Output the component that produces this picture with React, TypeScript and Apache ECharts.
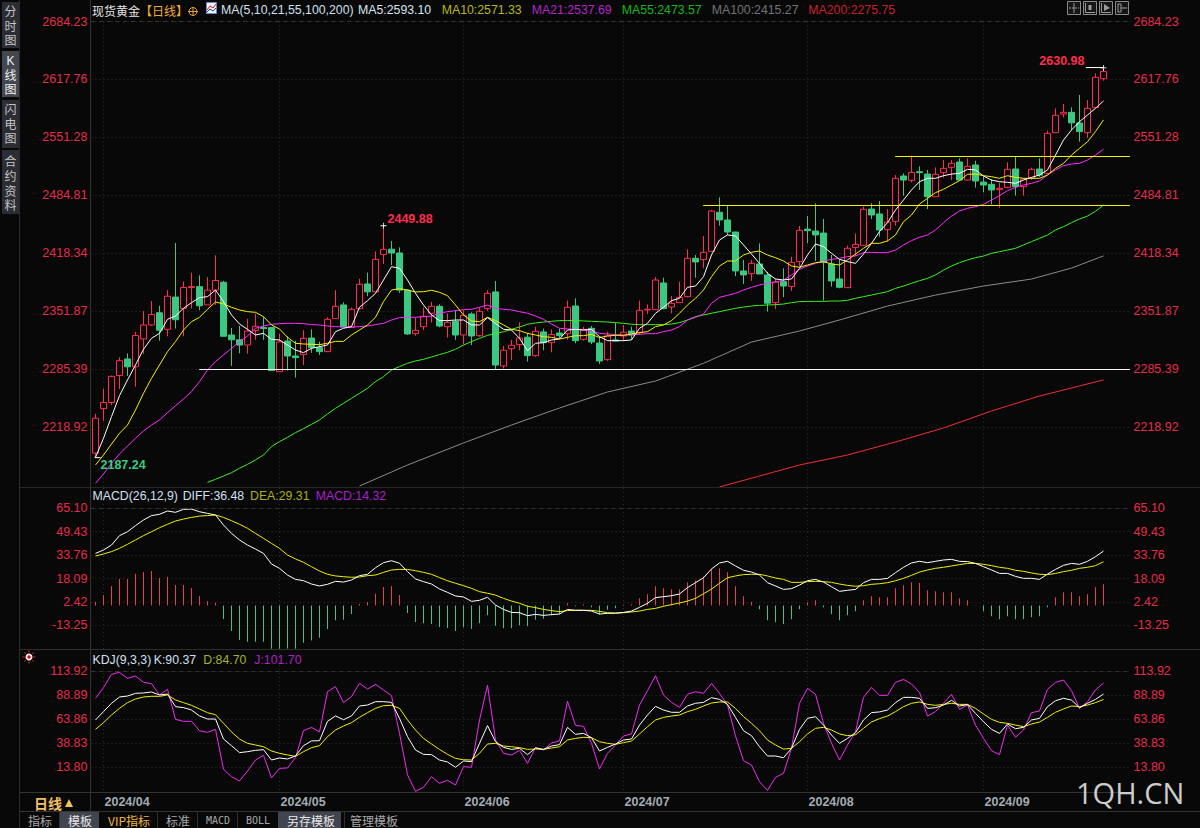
import React, { useEffect, useRef } from "react";
import * as echarts from "echarts";

const opens = [2189,2240,2247,2278,2297,2288,2320,2336,2350,2331,2368,2355,2379,2380,2359,2376,2385,2324.5,2319,2313,2329.5,2333,2333,2282.4,2317.6,2300.4,2302,2321,2310,2305.4,2343.3,2359,2333.3,2354.7,2383,2374,2417,2423,2418.6,2376,2326,2334,2349.4,2357.4,2334,2340,2324.5,2348.6,2323.7,2354.7,2373.9,2289,2308.8,2313.4,2322,2300.8,2328,2315.7,2326.8,2326,2357.8,2319.5,2332.2,2315.3,2296.2,2318.8,2323.4,2329,2327.6,2353.2,2353.6,2384.2,2356.6,2361.6,2368.5,2412.5,2411,2420.5,2465.3,2456.5,2442.7,2398,2394.9,2406,2393.4,2361.6,2385.7,2380.3,2408.7,2446,2443.8,2441.5,2406,2388.8,2378.8,2425,2427.4,2469,2463.4,2445.4,2454.9,2506.9,2502,2511.9,2509.2,2483.2,2510.8,2516.9,2523,2502.3,2519.6,2500,2497.4,2491.3,2493.9,2515,2494.7,2504.3,2515,2510,2556.7,2578,2580,2567.8,2556.7,2585.4,2618.6];
const closes = [2229,2247,2277,2295,2288,2324,2336,2348,2330,2369,2342,2379,2380,2358,2376,2387,2323,2319,2313,2329,2334.5,2332,2283.6,2316.5,2300.4,2298.5,2320.7,2310,2305.4,2342.5,2357.4,2333.7,2354,2382.7,2374,2411.3,2422.8,2418.6,2376,2325.7,2329.9,2345.9,2357.4,2334.8,2339,2324.5,2347,2323.4,2351.7,2372.3,2290,2307,2312.7,2321,2300.8,2328.7,2315.7,2325,2323.7,2356.3,2318,2331,2316.5,2294.7,2323.4,2317.6,2327.6,2324.5,2352.8,2354,2387.6,2354.7,2360.8,2367.7,2412.5,2408.3,2419.4,2466.8,2456.5,2442.7,2398,2393.4,2406.7,2394.5,2361,2385.3,2380.7,2407.9,2444.6,2444.2,2439.3,2407.9,2386.5,2379.2,2424,2428.5,2468.7,2462.2,2445,2454,2504.3,2502.3,2511,2510.8,2483.2,2508.9,2515.7,2521.5,2502.3,2518,2501.2,2496.6,2490.9,2492.8,2514.6,2494.7,2503.5,2514.6,2508,2555.9,2576.6,2580,2568,2557.9,2584.6,2620.2,2627];
const lows = [2184,2226,2244,2262.5,2277.5,2265,2303,2335,2318,2323,2332,2323,2355,2353,2359,2359,2323,2289,2303.5,2303,2319,2319,2283.6,2282,2283.6,2275.6,2290,2304,2301.6,2305.4,2343.3,2333.7,2333.3,2354,2369,2374,2406,2404.8,2373,2324.5,2323.7,2330,2338.7,2333.3,2321.5,2319,2314,2313,2322.6,2352.4,2285,2286,2295.8,2307,2294,2299.6,2307,2304.6,2320.7,2319,2315,2318,2314,2291.2,2295,2317,2317.6,2319,2324.5,2348.6,2353.2,2354,2349.4,2361.6,2367.7,2390.3,2401,2420,2450,2439.3,2392,2383,2386.5,2394.5,2351.3,2354.3,2368,2375,2402.9,2429.7,2409.4,2363.9,2380,2378,2378.8,2415,2426.6,2457.6,2437.3,2431.6,2449.9,2484.4,2499.7,2490.9,2469,2483.2,2505,2502.3,2502,2502,2493.6,2488.2,2474.4,2470.6,2492.8,2484.4,2484.4,2502.3,2506,2509.2,2556.7,2574.3,2559.7,2546.3,2550.5,2584.6,2616.3];
const highs = [2234,2263,2278,2299,2303.5,2328,2352,2363.5,2358,2376,2430,2386,2396,2393,2391,2416,2386.5,2332.5,2335,2343,2349,2345.5,2333,2326,2323,2318,2330,2331,2317,2345,2376,2362,2356,2389,2396,2420.5,2449.88,2432.4,2425,2377,2344.8,2355.9,2362.4,2359.7,2349.4,2353,2353,2350.5,2356,2375.8,2386.5,2312,2319,2339,2327,2334,2331.8,2331,2332,2364,2366.6,2334,2334.8,2322.6,2328.3,2338.7,2336,2334,2364,2359.7,2391,2390.3,2369.3,2385.7,2422.8,2416.3,2438,2468,2482.5,2473.3,2443,2410.6,2410.6,2429.7,2397,2389.5,2401,2414.4,2449.6,2461,2475.6,2457.6,2416.3,2411.3,2427,2441,2471.8,2475.6,2478.3,2469,2508,2510,2530.3,2518,2513.9,2516.9,2525.3,2525.3,2527.2,2527.2,2524.5,2506.2,2503,2499.3,2522.6,2529,2504.3,2516.5,2527.2,2559,2584.6,2589.6,2585.7,2599.9,2594,2624.7,2630.98];

const ma5 = [2184.1,2206,2230.8,2254.9,2272.9,2290.1,2308.1,2320.7,2326.4,2342.5,2346.3,2355.1,2361.6,2367.4,2368.5,2376.1,2362.8,2347.5,2337.1,2331,2324.5,2326.4,2319.5,2318.8,2313,2307.3,2304.2,2309.2,2311.1,2313,2328.3,2332.2,2334.1,2356.3,2363.9,2372.3,2387.6,2402.9,2401,2387.6,2372.3,2358.9,2347.5,2341,2341,2341.7,2341.7,2336,2336,2344.4,2337.9,2331,2330.2,2320.7,2306.5,2315,2315.7,2318.8,2319.9,2330.2,2331,2330.2,2331,2322.6,2318,2318,2318,2318.8,2332.2,2337.9,2349.4,2356.3,2363.9,2366.6,2379.2,2380.7,2391.4,2416.3,2433.5,2439.3,2438.1,2427.8,2417.4,2406.7,2395.3,2388.8,2387.6,2388.8,2401,2416.3,2428.9,2425.9,2418.2,2411.3,2408.7,2406.7,2417.4,2429.7,2443.1,2453.4,2467.9,2479.4,2490.9,2500.4,2504.3,2504.3,2507.3,2509.2,2510,2514.6,2513.9,2506.9,2502.3,2500.4,2499.7,2498.5,2502.3,2505.4,2508.1,2513.9,2531,2548.2,2559.7,2569.3,2576.9,2584.6,2593.1];
const ma10 = [2175.3,2186.8,2199.4,2211.7,2221.2,2238.4,2257.6,2274.8,2290.1,2305.4,2316.9,2330.2,2339.8,2344.8,2354,2362.4,2360.1,2356.3,2353.2,2351.3,2350.5,2345.5,2336,2331.4,2321.8,2315,2314.2,2313.8,2313.4,2315,2317.2,2317.2,2324.5,2330.2,2336,2344.8,2362.8,2376.1,2377.7,2376.1,2373.9,2374.2,2375.8,2373.5,2369.6,2358.9,2347.5,2340.6,2339.8,2344.8,2341,2336,2331,2329.5,2326.4,2324.5,2322.6,2321.8,2319.9,2321.8,2323.7,2323.7,2325.3,2321.5,2323.4,2324.1,2324.1,2325.7,2327.2,2328.3,2334.1,2336,2341,2349.4,2358.9,2366.6,2376.1,2391.4,2403.7,2409.4,2409.4,2416.3,2419.4,2420.9,2416.3,2413.2,2409.4,2403.7,2402.2,2404.8,2407.5,2408.7,2406,2404.8,2410.6,2417.4,2424,2429.7,2429.7,2432.4,2439.3,2454.5,2462.2,2474.8,2481.3,2487.8,2491.7,2496.6,2501.6,2508.9,2509.2,2507.3,2506.2,2504.3,2507.3,2505.4,2504.3,2504.3,2504.3,2508.1,2515.7,2521.5,2531,2538.7,2546.3,2557.9,2571.33];
const ma21 = [2154.3,2165,2177.2,2188,2197.1,2206,2214.4,2221.2,2227,2235.4,2243.4,2251.1,2259.5,2271,2284.3,2294,2301.6,2309.2,2316.9,2323.4,2332.2,2334.8,2336.8,2337.5,2337.9,2337.9,2337.5,2336.4,2336,2334.8,2334.1,2333.7,2333.7,2334.1,2334.8,2336.4,2337.9,2341.7,2344.4,2344.8,2344.8,2345.5,2346.3,2349.4,2351.3,2352.4,2353.6,2354,2356.3,2358.9,2355.1,2354,2353.2,2351.3,2349.4,2346.3,2342.5,2337.1,2332.2,2331.4,2331,2330.2,2329.5,2326.4,2325.7,2324.9,2324.5,2324.5,2325.3,2326,2326,2328.3,2330.2,2334.1,2341.7,2344.8,2348.6,2360.9,2367.7,2370,2372.3,2376.1,2379.2,2381.9,2383.8,2385.3,2387.6,2393.4,2399.9,2403.7,2406.7,2409.4,2411.3,2412.5,2414.4,2415.2,2419,2419.4,2419,2419,2422,2427.8,2432.8,2436.6,2439.3,2445,2453.4,2461,2466.8,2469.9,2471.8,2474.4,2479.4,2484.4,2490.1,2493.9,2496.6,2498.5,2501.2,2508.1,2513.9,2518.8,2520.7,2521.5,2525.3,2531,2537.69];
const ma55 = [null,null,null,null,null,null,null,null,null,null,null,null,null,null,2155.4,2158.9,2162.7,2166.5,2171.5,2176.1,2181.1,2186.8,2196.4,2202.1,2207.1,2212.4,2217,2222,2227,2233.9,2240.4,2246.1,2251.8,2257.6,2263.3,2271,2276.7,2284.3,2288.2,2292,2294.7,2296.6,2299.3,2302,2304.6,2308.1,2313,2316.9,2320.7,2324.1,2326,2328.3,2331,2333.7,2336.8,2338.3,2339.4,2340.2,2341,2341,2341,2340.6,2340.2,2339.8,2339.4,2338.7,2337.9,2336.8,2336.4,2336.4,2336.4,2336.4,2337.1,2338.7,2341.7,2345.5,2347.5,2349.4,2351.3,2353.2,2355.1,2356.6,2357.8,2358.5,2358.9,2359.3,2360,2361.6,2362.8,2363.1,2363.1,2363.1,2363.5,2363.5,2364.3,2366.6,2368.5,2370.4,2372.3,2374.2,2378,2380.7,2383.8,2386.8,2389.5,2393.4,2399,2403.7,2407.5,2410.6,2413.2,2415.1,2418.2,2420.1,2422,2423.9,2427.8,2431.6,2435.4,2439.2,2445,2448.8,2453.4,2457.6,2461,2466.4,2473.57];
const ma100Bars = [33,39,46,52,58,64,70,76,82,88,93,99,105,111,117,122,126];
const ma100Values = [2151.2,2175.3,2200.6,2221.2,2240.7,2259.1,2271.7,2292,2316.4,2329.1,2341.7,2357.7,2370.3,2380.7,2388.7,2401.3,2415.27];
const ma200Bars = [78,83,88,94,100,106,112,118,123,126];
const ma200Values = [2150.1,2162.7,2175.3,2186.8,2201.7,2217.8,2237.3,2254.5,2266,2273];

const macdHist = [2.6,7.05,13.1,17.8,17.8,21.3,22.5,23.1,18.4,19.1,13.7,13.7,11.7,6.4,3,1.9,-9,-17.1,-23.1,-24.2,-24.2,-24.2,-29,-29,-28.7,-29,-24.9,-23.5,-21.5,-15.7,-9.9,-9.5,-5.7,1,2.4,7.9,12.4,13.1,7.1,-5,-11,-11.9,-12.4,-14.3,-15,-17,-14.5,-15.6,-11.8,-6.5,-13.6,-15.2,-15.2,-13.2,-13.8,-9.6,-8.9,-6.5,-5.8,1.6,-0.5,0.9,-1.1,-6,-2.9,-1.8,0.3,0.9,4.9,7.6,12.9,11.6,10.9,10.9,15.6,16.7,19.4,24.8,25,22.3,12.9,6.2,2.5,-2.5,-9.8,-11.2,-12.3,-9.2,-2.5,2.2,3.6,-1.1,-5.8,-9.8,-6.5,-3.8,3.6,6.2,5.6,5.6,11.6,13.6,15.6,15,10.3,9.6,8.9,8.9,4.9,3.6,0.2,-3.8,-7.1,-9.2,-7.1,-9.2,-9.2,-7.8,-7.1,-1.1,5.6,8.9,8.9,6.2,7.6,12.3,14.32];
const macdDiff = [34.9,37.2,40.5,46.8,49.4,53.5,57.3,60.2,61.1,63.3,62.4,64.4,64.6,62.8,61.7,60.6,53.9,48.3,43.9,40.5,37.8,34.9,27.8,24.9,20.4,17.5,16.6,14.4,13.1,14.2,16.2,15.7,17.1,20,20.9,25.3,28.7,30,28.3,22.7,17.8,16,14.4,11.1,8.8,6.4,5.7,2.8,3.5,5.5,0.35,-2.6,-4.6,-4.8,-6.8,-5.9,-6.6,-6.1,-5.7,-2.6,-3.2,-3.2,-3.7,-5.7,-5.2,-5.2,-4.6,-3.7,-1.2,1.5,5.3,5.9,6.6,7.7,12,15.3,18.6,24.5,28.5,29.6,26.5,23.6,22.4,20.4,15.3,13.1,10.8,11.3,13.7,16.6,17.5,15.7,12.6,9.5,10.2,10.8,15.3,17.5,17.5,18.2,22,25.6,28.5,29.6,28.7,29.6,30.5,30.9,29.6,29.4,28.2,26,23.8,21.5,21.5,19.5,18.2,18.2,17.5,21.1,24.2,26.9,28.2,27.6,29.6,32.7,36.48];
const macdDea = [33.2,34.5,36.1,38.3,41,43.9,46.8,49.4,52.1,54.4,56.6,57.9,59,59.9,60.2,60.6,59,56.8,54.4,51.7,48.3,45,41.6,38.3,33.8,31.2,28.9,26,23.1,20.9,19.8,19.3,18.9,19.1,20,20.4,22.2,23.8,24.2,24.2,23.3,22.2,20.9,18.7,16.6,14.9,13.3,11.5,9.3,8.2,7,4.8,3,1.5,-0.5,-1.4,-2.6,-3.4,-4.1,-3.4,-3.2,-3.2,-3.2,-3.9,-4.8,-5,-4.8,-4.3,-3.7,-2.6,-1.9,-0.5,0.6,1.7,3,4.8,7.9,11,14.9,18.6,19.8,20.7,20.9,20.9,19.8,18.4,17.5,15.5,15.5,16,16.2,16,15.5,14.4,13.5,12.9,13.3,14.2,14.6,15.3,16.6,18.2,20.2,22.4,23.8,24.9,25.6,26.5,27.4,28.2,28.2,27.6,26.7,25.6,24.9,23.6,22.9,21.8,20.9,20.7,21.5,22.7,23.6,24.9,25.6,26.7,29.31];

const kdjK = [63.3,72,80.7,87.3,88.3,91.1,91.5,92.5,89.4,90.4,77.2,76.2,73.7,67.5,64.3,64.3,43.4,36.5,29.2,30.2,31.6,32.3,21.5,23.6,22.6,25.7,36.5,41.4,41.7,61.9,67.5,63.6,67.5,77.9,78.9,82.4,82.4,81.7,65,45.9,31.9,27.4,27.1,21.5,19.4,13.9,20.5,19.8,38.9,57.4,40.6,34.7,32.6,33.7,27.1,34,32.6,36.1,37.5,55.6,48.3,49.3,44.8,30.9,34.7,38.2,42.4,43.4,58,68.5,77.5,73.7,71.3,71.3,77.9,80.7,81.7,86.6,84.8,79.6,66,52.1,46.9,35.4,25.7,25.7,23.9,33.7,53.5,65,66.7,58,47.6,38.9,44.1,50,63.3,71,71.7,73.7,81.4,86.9,86.9,85.9,75.4,76.1,78.9,83.8,77.9,79.3,70.2,61.5,53.5,49.3,59.1,54.2,55.6,63.3,65,77.2,83.4,85.9,84.1,76.1,80.7,84.8,90.37];
const kdjD = [53.5,60.5,68.5,75.5,81.4,85.2,87.3,88,88,89.4,84.2,81.4,78.6,74.8,70.9,68.8,59.8,50.8,43.4,38.9,37.2,35.4,30.9,28.5,26.8,25.3,30.2,34.4,36.5,45.9,52.8,57,60.5,66.1,70.9,75.5,78.2,78.6,75.5,63.3,52.8,44.1,38.2,32.6,27.4,23.2,21.8,21.5,28.5,38.2,38.9,36.1,35.4,34.4,32.6,33,32.6,34,35.4,42.4,44.1,45.2,44.8,40.6,38.9,37.9,39.6,41.3,48.7,56.3,63.3,66,67.4,68.5,72,74.4,77.9,81,82.1,82.1,75.4,66.8,59.8,52.1,42.4,37.2,32.9,33.7,40.6,48.7,54.6,55.6,52.8,48.7,46.9,47.9,54.6,61.2,64.7,67.4,72,77.2,80.7,82.1,79.6,78.6,79.6,80.7,79.6,79.6,75.4,69.5,64,60.8,59.8,58,56.3,59.1,61.2,66,71.3,74.8,77.9,77.2,78.9,81.4,84.7];
const kdjJ = [85.9,97,111,113,106.8,109.2,102.6,101.2,89.4,95.3,64,61.9,61.9,52.1,50.4,53.5,11.8,4.1,-0.4,10,21.5,26.4,2.7,12.8,13.2,24,52.1,55.6,50.8,92.9,98.1,81.4,87.6,101.6,95.6,100.5,94.6,88.7,49.4,6,-11.2,-7,4.1,-2.8,0.3,-4.6,14.6,13.9,63.3,99.5,42.4,28.5,26.7,31.6,18,34.7,32,39.3,41.4,82.8,57.7,56.7,38.9,12.1,28.5,37.2,46.6,48.7,78.9,93.9,109.5,89.4,81.7,76.5,90.1,92.8,91.1,101.5,91.1,78.9,46.6,20.8,16.3,-1.1,-10.2,3.4,7.6,33.7,80.7,96.3,90.1,59.8,38.9,21.5,37.2,51.1,86.9,97.4,89,89,102.6,105.7,100.9,92.1,67.4,72,80.7,90.1,74.4,78.9,58,44.1,31.2,27.1,58,45.2,52.8,70.9,72.7,95.3,102.6,105,93.9,75.4,82.4,94.6,101.7];

const mainTicks = [2684.23, 2617.76, 2551.28, 2484.81, 2418.34, 2351.87, 2285.39, 2218.92];
const macdTicks = [65.1, 49.43, 33.76, 18.09, 2.42, -13.25];
const kdjTicks = [113.92, 88.89, 63.86, 38.83, 13.8];
const monthBars = [1, 23, 46, 66, 89, 111];
const monthLabels = ["2024/04", "2024/05", "2024/06", "2024/07", "2024/08", "2024/09"];
const BAND_COUNT = 130;
const categories = Array.from({ length: BAND_COUNT }, (_, i) => {
  const k = monthBars.indexOf(i);
  return k >= 0 ? monthLabels[k] : `#${i}`;
});
const supportLevel = 2284.9;
const lowerBox = 2473.09;
const upperBox = 2529.32;
const highPointer = 2631.4;

const LATIN = '"Liberation Sans", Arial, sans-serif';
const CJK = '"Noto Sans CJK SC", "Liberation Sans", sans-serif';
const SIDE = '"Liberation Sans", "Noto Sans CJK SC", sans-serif';
const RED = "#e62c4b";
const UP = "#ff2d4f";
const DOWN = "#3bc982";
const BG = "#080808";
const GRID = "#2e2e2e";

const isMonth = (i: number) => monthBars.includes(i);

function catAxis(gridIndex: number, labels: boolean) {
  return {
    type: "category", gridIndex, data: categories, boundaryGap: true,
    axisLine: { show: false }, axisTick: { show: false },
    axisLabel: labels
      ? { show: true, interval: isMonth, align: "left", margin: 3, padding: [0, 0, 0, 1], color: "#a3abb5", fontFamily: LATIN, fontWeight: "bold", fontSize: 12.5, hideOverlap: false }
      : { show: false },
    splitLine: { show: true, interval: isMonth, alignWithLabel: true, lineStyle: { color: GRID, type: [1, 3], width: 1 } },
  };
}
function valAxis(gridIndex: number, position: string, min: number, max: number, ticks: number[], grid: boolean) {
  return {
    type: "value", gridIndex, position, min, max, scale: true,
    axisLine: { show: false },
    axisTick: { show: false, customValues: ticks },
    axisLabel: {
      show: true, customValues: ticks, margin: position === "left" ? 4 : 2,
      align: position === "left" ? "right" : "left",
      color: RED, fontFamily: LATIN, fontSize: 12.5, formatter: (v: number) => v.toFixed(2),
    },
    splitLine: { show: grid, lineStyle: { color: GRID, type: [1, 3], width: 1 } },
  };
}
function line(name: string, x: number, y: number, data: any[], color: string, extra: any = {}) {
  return { type: "line", name, xAxisIndex: x, yAxisIndex: y, data, showSymbol: false, symbol: "none", smooth: false, silent: true, connectNulls: false, lineStyle: { color, width: 1 }, ...extra };
}
const zip = (a: number[], b: number[]) => a.map((v, i) => [v, b[i]]);
const CROSS = "path://M0 2.6H6V3.4H0Z M2.6 0H3.4V6H2.6Z";
const DASH = "path://M0 0H6V1H0Z";

function txt(text: string, x: number, y: number, fill: string, size = 12.3, font = LATIN, extra: any = {}) {
  return { type: "text", silent: true, z: 50, style: { text, x, y, fill, font: `${extra.weight || "normal"} ${size}px ${font}`, textVerticalAlign: "middle", textAlign: extra.align || "left" } };
}
function hline(x1: number, x2: number, y: number, stroke: string, dash?: number[]) {
  return { type: "line", silent: true, z: 40, shape: { x1, y1: y, x2, y2: y }, style: { stroke, lineWidth: 1, lineDash: dash } };
}
function vline(x: number, y1: number, y2: number, stroke: string) {
  return { type: "line", silent: true, z: 40, shape: { x1: x, y1, x2: x, y2 }, style: { stroke, lineWidth: 1 } };
}
function box(x: number, y: number, w: number, h: number, fill: string, stroke?: string) {
  return { type: "rect", silent: true, z: 30, shape: { x, y, width: w, height: h }, style: { fill, stroke, lineWidth: 1 } };
}
function poly(points: number[][], stroke: string, lineWidth = 1) {
  return { type: "polyline", silent: true, z: 45, shape: { points }, style: { stroke, fill: "none", lineWidth } };
}
function stack(chars: string[], centers: number[], fill: string) {
  return chars.map((c, i) => txt(c, 10.5, centers[i], fill, 12, SIDE, { align: "center" }));
}

function decoration() {
  const rays = [0, 45, 90, 135, 180, 225, 270, 315].map((d) => {
    const a = (d * Math.PI) / 180;
    return { type: "line", silent: true, z: 45, shape: { x1: 29 + 4.5 * Math.cos(a), y1: 657 + 4.5 * Math.sin(a), x2: 29 + 6.5 * Math.cos(a), y2: 657 + 6.5 * Math.sin(a) }, style: { stroke: "#ff2020", lineWidth: 1 } };
  });
  return [
    // frame
    hline(20, 1200, 487.5, "#262626"), hline(20, 1200, 649.5, "#2e2e2e"), hline(20, 1132, 792.5, "#333"), hline(20, 1200, 811.5, "#333"),
    vline(19.5, 0, 828, "#2b2b2b"), vline(90.5, 0, 811, "#333"),
    hline(91, 1131, 21.5, "#343434", [4, 4]), hline(91, 1131, 508.5, "#343434", [4, 4]), hline(91, 1131, 671.5, "#343434", [4, 4]),
    // side tabs
    box(2, 2, 17, 46, "#2a2d33"), box(2, 51, 17, 46, "#43474f"), box(2, 100, 17, 48, "#2a2d33"), box(2, 150, 17, 64, "#2a2d33"),
    ...stack(["分", "时", "图"], [12, 26.5, 41], "#c4c4c4"),
    ...stack(["K", "线", "图"], [61, 75.5, 90], "#f0f0f0"),
    ...stack(["闪", "电", "图"], [110, 124.5, 139], "#c4c4c4"),
    ...stack(["合", "约", "资", "料"], [162, 177, 192, 206], "#c4c4c4"),
    // main header
    txt("现货黄金", 92, 10, "#e4e4e4", 12, CJK),
    txt("【日线】", 140, 10, "#f0aa3c", 12, CJK),
    { type: "circle", silent: true, z: 45, shape: { cx: 193, cy: 11.5, r: 4 }, style: { fill: "none", stroke: "#e6a040", lineWidth: 1 } },
    hline(188, 198, 11.5, "#e6a040"), vline(193, 7, 16, "#e6a040"),
    box(206.5, 2.5, 10, 11, "#f2f2f2", "#6688cc"),
    poly([[207, 10], [210, 6], [213, 8], [216, 4]], "#e01818"), poly([[207, 12], [210, 9], [213, 11], [216, 8]], "#1838c8"),
    txt("MA(5,10,21,55,100,200)", 221, 10, "#cfe0f0"),
    txt("MA5:2593.10", 358, 10, "#d8e4f0"),
    txt("MA10:2571.33", 441.7, 10, "#b6b81e"),
    txt("MA21:2537.69", 531.7, 10, "#b424c8"),
    txt("MA55:2473.57", 621.7, 10, "#12b818"),
    txt("MA100:2415.27", 711.7, 10, "#707478"),
    txt("MA200:2275.75", 808.3, 10, "#c82028"),
    // chart tools
    box(1067.5, 1.5, 13, 13, "#161616", "#8a8a8a"), box(1083.5, 1.5, 13, 13, "#161616", "#8a8a8a"), box(1099.5, 1.5, 13, 13, "#161616", "#8a8a8a"), box(1115.5, 1.5, 13, 13, "#161616", "#8a8a8a"),
    hline(1069, 1079, 8, "#9a9a9a", [2, 1]), vline(1074, 3, 13, "#9a9a9a"),
    poly([[1085.5, 3], [1085.5, 12.5], [1095, 12.5]], "#9a9a9a"), box(1088.5, 5, 3, 5, "#9a9a9a"),
    poly([[1101.5, 3], [1101.5, 12.5], [1111, 12.5]], "#9a9a9a"), { type: "polygon", silent: true, z: 45, shape: { points: [[1104, 4], [1110, 8], [1104, 11]] }, style: { fill: "#9a9a9a" } },
    box(1118, 4, 3, 8, "#161616", "#9a9a9a"), hline(1121, 1127, 8, "#9a9a9a"),
    // macd header
    txt("MACD(26,12,9)", 92.5, 496, "#cfe0f0"),
    txt("DIFF:36.48", 182.7, 496, "#cfe0f0"),
    txt("DEA:29.31", 250, 496, "#aab01e"),
    txt("MACD:14.32", 315.7, 496, "#a822cc"),
    // kdj header
    ...rays,
    { type: "circle", silent: true, z: 46, shape: { cx: 29, cy: 657, r: 3.5 }, style: { fill: "#f4f4f4" } },
    { type: "circle", silent: true, z: 47, shape: { cx: 29, cy: 657, r: 1.8 }, style: { fill: "#e81010" } },
    txt("KDJ(9,3,3)", 92.5, 659.5, "#cfe0f0"),
    txt("K:90.37", 153.7, 659.5, "#cfe0f0"),
    txt("D:84.70", 203.3, 659.5, "#a2b41e"),
    txt("J:101.70", 254.3, 659.5, "#b022c8"),
    // bottom bar
    txt("日线", 34, 803, "#f2c064", 14, CJK, { weight: "bold" }),
    { type: "polygon", silent: true, z: 45, shape: { points: [[65, 807], [73, 807], [69, 799]] }, style: { fill: "#f2c064" } },
    box(60, 812, 39, 16, "#414550"), box(278, 812, 63, 16, "#414550"),
    vline(59.5, 812, 828, "#2e2e2e"), vline(157.5, 812, 828, "#2e2e2e"), vline(197.5, 812, 828, "#2e2e2e"), vline(237.5, 812, 828, "#2e2e2e"), vline(344.5, 812, 828, "#2e2e2e"),
    txt("指标", 28, 820, "#a8a8a8", 12, CJK),
    txt("模板", 68, 820, "#e8e8e8", 12, CJK),
    txt("VIP指标", 108, 820, "#f0b446", 12, CJK),
    txt("标准", 166, 820, "#a8a8a8", 12, CJK),
    txt("MACD", 206, 820, "#a8a8a8", 10, '"DejaVu Sans Mono", monospace'),
    txt("BOLL", 246, 820, "#a8a8a8", 10, '"DejaVu Sans Mono", monospace'),
    txt("另存模板", 287, 820, "#e8e8e8", 12, CJK),
    txt("管理模板", 350, 820, "#a8a8a8", 12, CJK),
    // watermark
    txt("1QH.CN", 1076, 792, "#cdcdcd", 29, '"Open Sans", sans-serif'),
  ];
}

export default function App() {
  const ref = useRef<HTMLDivElement>(null);
  useEffect(() => {
    document.body.style.margin = "0";
    document.body.style.background = BG;
    const chart = echarts.init(ref.current!, undefined, { renderer: "svg", width: 1200, height: 828 });
    const candles = opens.map((o, i) => [o, closes[i], lows[i], highs[i]]);
    const grids = [
      { left: 91.5, width: 1040, top: 21.5, height: 466 },
      { left: 91.5, width: 1040, top: 488, height: 161 },
      { left: 91.5, width: 1040, top: 649, height: 143 },
    ];
    const peakLabel = { show: true, fontFamily: LATIN, fontWeight: "bold", fontSize: 12.5 };
    chart.setOption({
      animation: false,
      backgroundColor: BG,
      tooltip: { show: false },
      grid: grids,
      xAxis: [
        catAxis(0, false), catAxis(1, false), catAxis(2, true),
        { type: "value", gridIndex: 0, min: -0.5, max: BAND_COUNT - 0.5, show: false },
      ],
      yAxis: [
        valAxis(0, "left", 2149.5, 2684.23, mainTicks, true),
        valAxis(0, "right", 2149.5, 2684.23, mainTicks, false),
        valAxis(1, "left", -29.11, 78.69, macdTicks, true),
        valAxis(1, "right", -29.11, 78.69, macdTicks, false),
        valAxis(2, "left", -11.9, 137.4, kdjTicks, true),
        valAxis(2, "right", -11.9, 137.4, kdjTicks, false),
      ],
      series: [
        {
          type: "candlestick", name: "现货黄金", xAxisIndex: 0, yAxisIndex: 0, data: candles, barWidth: 6, silent: true,
          itemStyle: { color: BG, color0: DOWN, borderColor: UP, borderColor0: DOWN, borderWidth: 1 },
          markPoint: {
            silent: true, symbolSize: 6, animation: false,
            itemStyle: { color: "#ffffff" },
            data: [
              { coord: [36, 2449.88], symbol: CROSS, label: { ...peakLabel, formatter: "2449.88", position: "right", distance: 1, offset: [0, -7], color: UP } },
              { coord: [126, 2630.98], symbol: CROSS, label: { ...peakLabel, formatter: "2630.98", position: "left", distance: 0, offset: [-16, -7], color: UP } },
              { coord: [0, 2183.8], symbol: DASH, symbolSize: [6, 1], symbolOffset: [2, 0], label: { ...peakLabel, formatter: "2187.24", position: "right", distance: 0, offset: [0, 7], color: DOWN } },
            ],
          },
        },
        line("MA200", 0, 0, ma200Values, "#f0302c", { xAxisIndex: 3, data: zip(ma200Bars, ma200Values) }),
        line("MA100", 0, 0, ma100Values, "#8a8a8a", { xAxisIndex: 3, data: zip(ma100Bars, ma100Values) }),
        line("MA55", 0, 0, ma55, "#3cf020"),
        line("MA21", 0, 0, ma21, "#ff2cff"),
        line("MA10", 0, 0, ma10, "#f4f000"),
        line("MA5", 0, 0, ma5, "#ffffff"),
        line("support", 3, 0, [[12.96, supportLevel], [129.3, supportLevel]], "#f8f8f8"),
        line("lower box", 3, 0, [[75.96, lowerBox], [129.3, lowerBox]], "#f6f600"),
        line("upper box", 3, 0, [[99.96, upperBox], [129.3, upperBox]], "#f6f600"),
        line("high pointer", 3, 0, [[123.8, highPointer], [126.1, highPointer]], "#ffffff"),
        {
          type: "bar", name: "MACD", xAxisIndex: 1, yAxisIndex: 2, data: macdHist, barWidth: 1, silent: true,
          itemStyle: { color: (p: any) => (p.value >= 0 ? "#ec3a55" : "#3cc48a") },
        },
        line("DEA", 1, 2, macdDea, "#f0f000"),
        line("DIFF", 1, 2, macdDiff, "#ffffff"),
        line("J", 2, 4, kdjJ, "#f02cf0"),
        line("D", 2, 4, kdjD, "#f0f000"),
        line("K", 2, 4, kdjK, "#ffffff"),
      ],
      graphic: { elements: decoration() },
    });
    return () => chart.dispose();
  }, []);
  return <div ref={ref} style={{ width: 1200, height: 828 }} />;
}
